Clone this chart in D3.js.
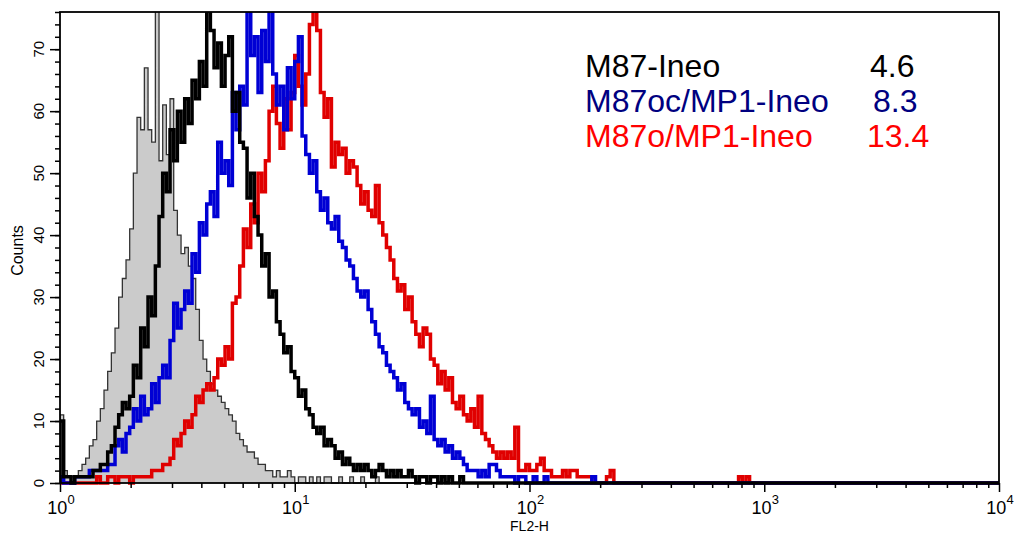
<!DOCTYPE html>
<html>
<head>
<meta charset="utf-8">
<script src="https://cdn.jsdelivr.net/npm/d3@7"></script>
<style>
  body { margin: 0; background: #fff; }
  text { font-family: "Liberation Sans", Arial, sans-serif; }
</style>
</head>
<body>
<div id="chart"></div>
<script>
/* CONSTANTS */
const width = 1015,
  height = 534,
  margin = { top: 12, right: 16, bottom: 51, left: 60 };

// histogram channels: 256 channels over 4 decades
const chPerDecade = 64;
const yMax = 76;

/* DATA (counts per channel) */
const grayCounts = [
  11, 2, 1, 1, 1, 2, 3, 4, 6, 7,
  10, 12, 15, 18, 21, 25, 30, 33, 36, 41,
  50, 59, 57, 67, 57, 55, 80, 52, 61, 53,
  62, 44, 40, 37, 38, 35, 33, 28, 23, 20,
  18, 16, 15, 14, 13, 12, 11, 10, 8, 7,
  6, 5, 5, 4, 3, 3, 2, 2, 1, 2,
  1, 1, 2, 1, 0, 1, 1, 0, 1, 0,
  1, 0, 1, 1, 0, 0, 1, 0, 0, 1,
  0, 0, 1, 0, 0, 0, 1, 0, 0, 0
];

const blackCounts = [
  10, 1, 1, 0, 1, 1, 1, 1, 1, 2,
  2, 3, 3, 5, 6, 9, 11, 13, 12, 14,
  19, 17, 25, 22, 30, 27, 35, 43, 50, 47,
  57, 52, 60, 55, 62, 58, 65, 62, 68, 64,
  78, 73, 67, 71, 64, 69, 72, 60, 63, 55,
  54, 46, 50, 43, 40, 35, 37, 30, 31, 26,
  24, 21, 22, 18, 17, 14, 15, 12, 11, 9,
  8, 9, 6, 7, 6, 4, 5, 3, 4, 3,
  2, 3, 2, 3, 2, 1, 2, 3, 2, 1,
  2, 1, 2, 1, 1, 2, 1, 0, 1, 1,
  0, 1, 1, 0, 1, 0, 1, 0, 0, 1
];

const blueCounts = [
  1, 0, 0, 0, 1, 1, 1, 1, 2, 2,
  2, 2, 2, 3, 3, 6, 7, 5, 8, 9,
  12, 10, 14, 11, 12, 16, 13, 17, 19, 17,
  23, 29, 25, 28, 31, 29, 37, 34, 42, 40,
  45, 47, 43, 55, 50, 52, 48, 63, 57, 64,
  61, 79, 69, 72, 63, 73, 68, 80, 66, 61,
  64, 57, 67, 62, 68, 72, 56, 53, 50, 52,
  47, 44, 46, 42, 41, 43, 39, 38, 36, 35,
  33, 31, 30, 31, 28, 26, 24, 22, 21, 19,
  18, 17, 15, 16, 13, 12, 11, 12, 9, 10,
  8, 14, 7, 6, 7, 5, 6, 4, 5, 4,
  3, 2, 2, 2, 1, 2, 1, 3, 3, 2,
  1, 1, 1, 1, 0, 1, 1, 0, 0, 1,
  0, 0, 1, 0, 0, 0, 0, 0, 0, 0,
  0, 0, 0, 0, 0, 1
];

const redCounts = [
  0, 0, 0, 0, 0, 0, 0, 0, 0, 0,
  1, 0, 0, 1, 1, 0, 1, 1, 1, 0,
  1, 1, 1, 1, 1, 2, 2, 2, 3, 3,
  4, 7, 6, 8, 10, 9, 11, 14, 13, 15,
  16, 15, 17, 20, 19, 22, 20, 29, 30, 35,
  41, 38, 45, 42, 50, 47, 52, 60, 64, 58,
  54, 62, 57, 63, 69, 64, 61, 66, 74, 79,
  73, 63, 59, 62, 51, 55, 53, 54, 50, 52,
  51, 48, 45, 47, 44, 43, 48, 42, 40, 38,
  36, 33, 31, 32, 28, 30, 26, 24, 22, 25,
  24, 20, 19, 16, 18, 15, 17, 13, 12, 14,
  11, 10, 12, 9, 14, 8, 7, 6, 5, 4,
  5, 4, 5, 4, 9, 2, 2, 3, 2, 2,
  3, 4, 2, 2, 1, 1, 1, 2, 1, 2,
  2, 1, 1, 1, 1, 0, 0, 0, 0, 1,
  2, 0, 0, 0, 0, 0, 0, 0, 0, 0,
  0, 0, 0, 0, 0, 0, 0, 0, 0, 0,
  0, 0, 0, 0, 0, 0, 0, 0, 0, 0,
  0, 0, 0, 0, 0, 1, 0, 1
];

const legendLabels = ["M87-Ineo", "M87oc/MP1-Ineo", "M87o/MP1-Ineo"];
const legendValues = ["4.6", "8.3", "13.4"];
const legendColors = ["#000000", "#000080", "#ff0000"];

const decadeTicks = [1, 10, 100, 1000, 10000];
const decadeExponents = ["0", "1", "2", "3", "4"];
const yMajorTicks = [0, 10, 20, 30, 40, 50, 60, 70];

/* SCALES */
const xScale = d3.scaleLog()
  .domain([1, 10000])
  .range([margin.left, width - margin.right]);

const yScale = d3.scaleLinear()
  .domain([0, yMax])
  .range([height - margin.bottom, margin.top]);

const svg = d3.select("#chart")
  .append("svg")
  .attr("width", width)
  .attr("height", height);

svg.append("clipPath")
  .attr("id", "plot-clip")
  .append("rect")
  .attr("x", margin.left)
  .attr("y", margin.top)
  .attr("width", width - margin.left - margin.right)
  .attr("height", height - margin.top - margin.bottom + 4);

// channel index -> FL2-H value at the left edge of the bin
const binStart = i => Math.pow(10, i / chPerDecade);

function stepPoints(counts) {
  const pts = [[1, 0]];
  counts.forEach((c, i) => pts.push([binStart(i), c]));
  pts.push([binStart(counts.length), 0]);
  pts.push([10000, 0]);
  return pts;
}

const lineFunc = d3.line()
  .x(d => xScale(d[0]))
  .y(d => yScale(d[1]))
  .curve(d3.curveStepAfter);

const areaFunc = d3.area()
  .x(d => xScale(d[0]))
  .y0(yScale(0))
  .y1(d => yScale(d[1]))
  .curve(d3.curveStepAfter);

const plot = svg.append("g").attr("clip-path", "url(#plot-clip)");

// control histogram, filled grey
plot.append("path")
  .datum(stepPoints(grayCounts))
  .attr("d", areaFunc)
  .attr("fill", "#cbcbcb");

plot.append("path")
  .datum(stepPoints(grayCounts))
  .attr("d", lineFunc)
  .attr("fill", "none")
  .attr("stroke", "#333")
  .attr("stroke-width", 1.3);

const series = [
  { counts: redCounts, color: "#e00000" },
  { counts: blueCounts, color: "#0000d4" },
  { counts: blackCounts, color: "#000000" }
];

plot.selectAll("path.trend")
  .data(series)
  .join("path")
  .attr("class", "trend")
  .attr("d", d => lineFunc(stepPoints(d.counts)))
  .attr("fill", "none")
  .attr("stroke", d => d.color)
  .attr("stroke-width", 3.5)
  .attr("stroke-linejoin", "miter");

/* AXES */
const yMinor = d3.range(0, yMax + 1, 2);
const xMinor = [];
decadeTicks.slice(0, 4).forEach(dec => {
  for (let k = 2; k <= 9; k++) xMinor.push(dec * k);
});

svg.append("g")
  .attr("transform", `translate(${margin.left},0)`)
  .call(d3.axisLeft(yScale).tickValues(yMinor).tickSize(5).tickSizeOuter(0).tickFormat(""))
  .call(g => g.select(".domain").remove());

svg.append("g")
  .attr("transform", `translate(${margin.left},0)`)
  .call(d3.axisLeft(yScale).tickValues(yMajorTicks).tickSize(10).tickSizeOuter(0).tickFormat(""))
  .call(g => g.select(".domain").remove());

svg.append("g")
  .attr("transform", `translate(0,${height - margin.bottom})`)
  .call(d3.axisBottom(xScale).tickValues(xMinor).tickSize(5).tickSizeOuter(0).tickFormat(""))
  .call(g => g.select(".domain").remove());

svg.append("g")
  .attr("transform", `translate(0,${height - margin.bottom})`)
  .call(d3.axisBottom(xScale).tickValues(decadeTicks).tickSize(9).tickSizeOuter(0).tickFormat(""))
  .call(g => g.select(".domain").remove());

svg.selectAll(".tick line")
  .attr("stroke", "#000")
  .attr("stroke-width", 1.5);

// frame
svg.append("rect")
  .attr("x", margin.left)
  .attr("y", margin.top)
  .attr("width", width - margin.left - margin.right)
  .attr("height", height - margin.top - margin.bottom)
  .attr("fill", "none")
  .attr("stroke", "#000")
  .attr("stroke-width", 1.8);

// y tick labels (rotated)
svg.selectAll("text.ylab")
  .data(yMajorTicks)
  .join("text")
  .attr("class", "ylab")
  .attr("transform", d => `translate(44,${yScale(d)}) rotate(-90)`)
  .attr("text-anchor", "middle")
  .attr("font-size", 15)
  .text(d => d);

svg.append("text")
  .attr("transform", `translate(23,${(margin.top + height - margin.bottom) / 2 + 3}) rotate(-90)`)
  .attr("text-anchor", "middle")
  .attr("font-size", 16)
  .text("Counts");

// x tick labels 10^n
const xlab = svg.selectAll("text.xlab")
  .data(decadeTicks)
  .join("text")
  .attr("class", "xlab")
  .attr("x", d => xScale(d) + 1)
  .attr("y", 514)
  .attr("text-anchor", "middle")
  .attr("font-size", 18);

xlab.append("tspan").text("10");
xlab.append("tspan")
  .attr("dy", -10)
  .attr("font-size", 13)
  .text((d, i) => decadeExponents[i]);

svg.append("text")
  .attr("x", (margin.left + width - margin.right) / 2)
  .attr("y", 531)
  .attr("text-anchor", "middle")
  .attr("font-size", 14)
  .text("FL2-H");

/* LEGEND */
const legendValueX = [870, 873, 867];
legendLabels.forEach((label, i) => {
  svg.append("text")
    .attr("x", 585)
    .attr("y", 77 + i * 35)
    .attr("font-size", 32)
    .attr("fill", legendColors[i])
    .text(label);
  svg.append("text")
    .attr("x", legendValueX[i])
    .attr("y", 77 + i * 35)
    .attr("font-size", 32)
    .attr("fill", legendColors[i])
    .text(legendValues[i]);
});
</script>
</body>
</html>
